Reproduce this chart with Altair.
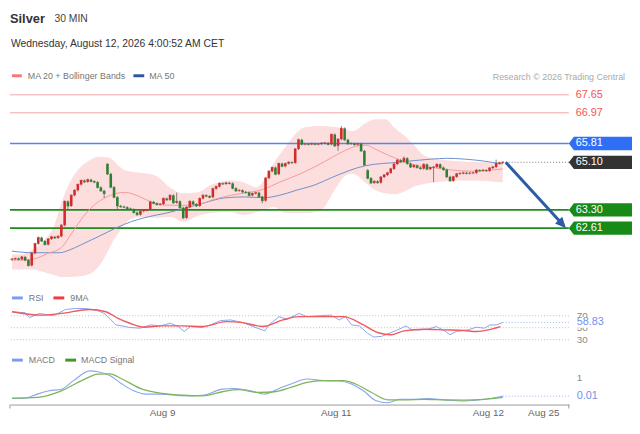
import math
import altair as alt
import pandas as pd

FONT = "Liberation Sans"

# ---------------- data ----------------
CLOSE = [61.44, 61.46, 61.43, 61.52, 61.40, 61.20, 61.66, 62.02, 62.25, 62.12,
         61.99, 62.20, 62.28, 62.24, 62.30, 62.72, 63.62, 63.45, 63.85, 64.04,
         64.26, 64.41, 64.36, 64.44, 64.38, 64.35, 64.15, 64.02, 63.92, 64.66,
         64.16, 63.78, 63.45, 63.42, 63.40, 63.35, 63.32, 63.20, 63.12, 63.25,
         63.28, 63.30, 63.60, 63.55, 63.50, 63.52, 63.73, 63.68, 63.85, 63.57,
         63.62, 63.38, 63.00, 63.40, 63.62, 63.52, 63.45, 63.73, 63.85, 63.82,
         63.78, 64.10, 64.18, 64.30, 64.28, 64.32, 64.30, 64.12, 64.02, 64.04,
         63.98, 63.96, 63.85, 63.92, 63.95, 63.80, 63.65, 64.50, 64.76, 64.90,
         64.65, 65.05, 64.95, 65.05, 65.10, 65.08, 65.60, 65.95, 65.78, 65.79,
         65.78, 65.80, 65.78, 65.79, 65.82, 65.83, 65.78, 66.15, 65.72, 65.97,
         66.38, 65.95, 65.80, 65.81, 65.77, 65.80, 65.53, 65.00, 64.50, 64.32,
         64.38, 64.33, 64.54, 64.62, 64.70, 64.85, 65.03, 65.18, 65.12, 65.25,
         65.05, 64.92, 64.98, 64.90, 64.86, 65.02, 64.84, 64.90, 64.92, 65.02,
         64.90, 64.82, 64.55, 64.40, 64.55, 64.66, 64.68, 64.70, 64.68, 64.69,
         64.70, 64.80, 64.78, 64.80, 64.78, 64.88, 64.92, 65.05, 65.08, 65.10]
FIRST_OPEN = 61.42
GAP_OPEN = {29: 65.04, 108: 64.80}
HIGH_WICK = {29: 65.06, 50: 63.95, 100: 66.47, 119: 65.32, 147: 65.20}
LOW_WICK = {17: 63.30, 28: 63.75, 32: 63.29, 52: 62.95, 76: 63.55, 99: 65.53, 128: 64.35}

MA20_I = [0, 6, 11, 15, 16.5, 19.5, 22.5, 25.5, 28.5, 31.5,
          34.5, 38.4, 42.3, 46.5, 51.3, 56.4, 61.4, 66.4, 71.4, 76.4,
          81.3, 86.3, 92.3, 97.4, 100.4, 104.3, 107.3, 110.3, 113.3, 118.4,
          123.2, 128.3, 133.4, 139.4, 145.4, 149]
MA20_P = [61.40, 61.43, 61.66, 61.87, 62.11, 62.67, 63.17, 63.54, 63.77, 63.92,
          63.96, 63.82, 63.60, 63.48, 63.47, 63.50, 63.70, 63.85, 63.95, 64.08,
          64.35, 64.60, 64.95, 65.30, 65.50, 65.70, 65.75, 65.60, 65.42, 65.16,
          64.97, 64.89, 64.81, 64.76, 64.80, 64.85]

MA50_I = [0, 6.3, 14.4, 17.4, 21.3, 26.4, 31.5, 36.3, 41.4, 46.5,
          52.5, 58.5, 64.4, 70.4, 76.4, 81.2, 86.3, 92.3, 97.4, 107.3,
          117.2, 127.4, 132.2, 137.3, 142.4, 147.2, 149]
MA50_P = [61.74, 61.68, 61.68, 61.78, 62.00, 62.30, 62.61, 62.86, 63.04, 63.17,
          63.36, 63.57, 63.75, 63.79, 63.76, 63.85, 64.04, 64.26, 64.54, 64.97,
          65.10, 65.22, 65.25, 65.22, 65.16, 65.07, 65.04]

BB_I = [0, 2.4, 6.3, 9.9, 12.9, 15.3, 17.4, 20.4, 23.4, 26.4,
        29.4, 30.9, 32.4, 34.5, 38.4, 43.5, 48.3, 51.9, 56.4, 60.3,
        66.2, 70.4, 74.3, 76.4, 79.4, 83.3, 86.3, 89.3, 93.8, 98.3,
        101.3, 103.4, 107.3, 110.3, 113.3, 116.3, 119.3, 122.3, 124.4, 128.3,
        138.2, 149]
BB_UP = [61.61, 61.61, 61.80, 62.17, 62.73, 63.67, 64.30, 64.86, 65.16, 65.31,
         65.27, 65.16, 64.97, 64.79, 64.71, 64.60, 64.12, 63.93, 63.97, 64.23,
         64.41, 64.34, 64.15, 64.41, 65.05, 65.72, 66.21, 66.43, 66.47, 66.43,
         66.35, 66.28, 66.58, 66.73, 66.73, 66.39, 66.09, 65.72, 65.42, 65.24,
         65.12, 65.09]
BB_LO = [61.05, 61.05, 61.05, 60.94, 60.83, 60.76, 60.76, 60.79, 60.87, 61.17,
         61.80, 62.17, 62.44, 62.81, 63.03, 63.00, 63.03, 62.85, 63.07, 63.18,
         63.22, 63.11, 63.22, 63.29, 63.41, 63.18, 63.18, 63.18, 63.29, 64.12,
         64.60, 64.67, 64.34, 64.04, 63.93, 63.89, 64.00, 64.19, 64.26, 64.34,
         64.41, 64.34]

RSI_I = [0, 4, 5.3, 8.3, 12.6, 16.3, 19.3, 22.4, 26.1, 27.9,
         29.1, 31.6, 33.4, 35.8, 38.9, 41.9, 45, 48.1, 50.5, 52.3,
         54.2, 57.8, 60.3, 63.3, 66.4, 70.1, 73.7, 76.8, 78, 81.1,
         83.5, 87.2, 89.6, 93.3, 96.9, 99.4, 101.2, 103.1, 105.5, 107.9,
         109.8, 112.2, 114.7, 117.1, 119.6, 121.4, 123.9, 126.3, 128.8, 131.2,
         133, 134.9, 138.5, 141, 143.4, 145.2, 147.1, 149]
RSI_V = [76.6, 75, 66.7, 73.8, 70, 80.4, 82, 82, 78.2, 74,
         68.4, 54.6, 53, 50.3, 49.2, 54.6, 53, 57.4, 51.9, 43.7,
         51.9, 50.3, 54.6, 61.8, 62.9, 58.5, 50.8, 44.8, 54.6, 68.4,
         64, 73.8, 68.4, 70, 71, 62.9, 68.4, 54.6, 53, 41,
         34.4, 35.5, 41, 46.4, 53, 46.4, 46.4, 47.5, 51.9, 45.3,
         38.2, 43.7, 46.4, 50.8, 49.2, 54.6, 54.6, 58.83]
RSI9_I = [0, 8.9, 15, 23.6, 28.5, 32.2, 35.8, 40.1, 45.6, 51.7,
          57.8, 65.2, 70.1, 76.2, 82.3, 87.2, 94.5, 100.6, 106.7, 111,
          115.3, 119, 125.1, 131.2, 137.3, 141, 144.6, 148.3]
RSI9_V = [76.6, 71, 73.8, 80.4, 76.6, 65.6, 57.4, 50.8, 53, 53,
          51.9, 60.1, 58.5, 51.9, 62.9, 68.4, 68.4, 68.4, 54.6, 42,
          38.2, 44.8, 47.5, 46.4, 45.3, 43.7, 46.4, 51.9]

MACD_I = [0, 4, 7.7, 11.3, 15, 18.7, 23.6, 26.1, 29.7, 33.4,
          37, 40.7, 45.6, 51.7, 57.8, 63.9, 67.6, 72.5, 76.8, 81.1,
          84.7, 89.6, 94.5, 99.4, 103.1, 106.7, 110.4, 114.1, 117.7, 121.4,
          126.3, 131.2, 137.3, 143.4, 149]
MACD_V = [-0.12, -0.10, 0.12, 0.30, 0.39, 0.85, 1.38, 1.33, 1.13, 0.67,
          0.30, 0.12, 0.12, 0.03, 0.06, 0.39, 0.43, 0.30, 0.12, 0.43,
          0.67, 0.94, 0.85, 0.83, 0.67, 0.30, -0.22, -0.35, -0.16, -0.16,
          -0.12, -0.19, -0.25, -0.16, 0.01]
SIG_I = [0, 7.7, 15, 21.2, 26.1, 29.7, 33.4, 39.5, 45.6, 51.7,
         57.8, 63.9, 68.8, 74.9, 79.8, 84.7, 89.6, 94.5, 100.6, 104.3,
         109.2, 114.1, 119, 125.1, 131.2, 137.3, 143.4, 149]
SIG_V = [-0.10, -0.06, 0.30, 0.85, 1.20, 1.22, 0.94, 0.39, 0.16, 0.06,
         0.03, 0.25, 0.36, 0.21, 0.25, 0.49, 0.76, 0.85, 0.85, 0.67,
         0.21, -0.19, -0.19, -0.16, -0.19, -0.20, -0.16, -0.06]

RESISTANCES = [67.65, 66.97]
PIVOT = [65.81]
SUPPORTS = [63.30, 62.61]
LAST_PRICE = 65.10
RSI_LEVELS = [70, 50, 30]
RSI_LAST = 58.83
MACD_LEVELS = [1]
MACD_LAST = 0.01
TICK_POS = [45.6, 98.3, 144.5, 161.3]
TICK_TEXT = ["Aug 9", "Aug 11", "Aug 12", "Aug 25"]
ARROW_I = [149.9, 168.2]
ARROW_P = [65.10, 62.61]

TITLE = "Silver"
PERIOD = "30 MIN"
DATE = "Wednesday, August 12, 2026 4:00:52 AM CET"
LEG_PRICE = ["MA 20 + Bollinger Bands", "MA 50"]
LEG_RSI = ["RSI", "9MA"]
LEG_MACD = ["MACD", "MACD Signal"]
CREDIT = "Research \u00a9 2026 Trading Central"

# ---------------- layout / styles ----------------
W, H = 566, 399
X_DOM = [-0.6, 169.06]
P_DOM = [55.94, 70.834]
R_DOM = [-78.15, 578.64]
M_DOM = [-0.444, 20.893]

UP, DOWN, FLAT = "#d42a2a", "#2e7f32", "#555555"
BOX_SHAPE = "M -1 0 L -0.84 -0.21 L 1 -0.21 L 1 0.21 L -0.84 0.21 Z"
BG_SHAPE = "M -1 -0.36 L 1 -0.36 L 1 0.36 L -1 0.36 Z"

# ---------------- tables ----------------
opens = [FIRST_OPEN] + CLOSE[:-1]
for k, v in GAP_OPEN.items():
    opens[k] = v
rows = []
for i, (o, c) in enumerate(zip(opens, CLOSE)):
    hi = HIGH_WICK.get(i, max(o, c) + 0.04)
    lo = LOW_WICK.get(i, min(o, c) - 0.04)
    d = "up" if c > o + 0.004 else ("down" if c < o - 0.004 else "flat")
    rows.append(dict(i=i, o=o, c=c, h=hi, l=lo, d=d))
candles = pd.DataFrame(rows)

bb = pd.DataFrame({"i": BB_I, "up": BB_UP, "lo": BB_LO})
ma20 = pd.DataFrame({"i": MA20_I, "p": MA20_P})
ma50 = pd.DataFrame({"i": MA50_I, "p": MA50_P})
rsi = pd.DataFrame({"i": RSI_I, "v": RSI_V})
rsi9 = pd.DataFrame({"i": RSI9_I, "v": RSI9_V})
macd = pd.DataFrame({"i": MACD_I, "v": MACD_V})
sig = pd.DataFrame({"i": SIG_I, "v": SIG_V})
ONE = pd.DataFrame({"k": [0]})
last_i = candles["i"].iloc[-1]

# ---------------- encodings ----------------
expr = "''"
for v, t in reversed(list(zip(TICK_POS, TICK_TEXT))):
    expr = f"abs(datum.value - {v}) < 0.01 ? '{t}' : ({expr})"

XS = alt.Scale(domain=X_DOM, nice=False, zero=False)
XAX = alt.Axis(values=TICK_POS, labelExpr=expr, ticks=False, grid=False,
               domainColor="#9a9a9a", domainWidth=1, labelColor="#666",
               labelFont=FONT, labelFontSize=10, labelPadding=3,
               labelFlush=False, labelOverlap=False, title=None)


def xq(f):
    return alt.X(f"{f}:Q", scale=XS, axis=XAX, title=None)


def yq(f, dom):
    return alt.Y(f"{f}:Q", scale=alt.Scale(domain=dom, nice=False, zero=False),
                 axis=None, title=None)


dcolor = alt.Color("d:N", scale=alt.Scale(domain=["up", "down", "flat"],
                                           range=[UP, DOWN, FLAT]), legend=None)


def text_at(txt, x, y, size=9, color="#777", weight="normal", align="left"):
    return alt.Chart(ONE).mark_text(align=align, baseline="middle", fontSize=size,
                                    font=FONT, color=color, fontWeight=weight).encode(
        x=alt.value(x), y=alt.value(y), text=alt.value(txt))


def swatch(x1, x2, y, color):
    return alt.Chart(ONE).mark_rule(color=color, strokeWidth=3).encode(
        x=alt.value(x1), x2=alt.value(x2), y=alt.value(y))


def price_box(values, color):
    df = pd.DataFrame({"p": values})
    box = alt.Chart(df).mark_point(shape=BOX_SHAPE, size=4096, filled=True, opacity=1,
                                   strokeWidth=0, color=color).encode(
        x=alt.value(598), y=yq("p", P_DOM))
    txt = alt.Chart(df).mark_text(align="left", baseline="middle", fontSize=11, font=FONT,
                                  color="white").encode(
        x=alt.value(573), y=yq("p", P_DOM), text=alt.Text("p:Q", format=".2f"))
    return [box, txt]


layers = []

# price panel
layers.append(alt.Chart(bb).mark_area(color="#fcdede", opacity=1, interpolate="monotone")
              .encode(x=xq("i"), y=yq("up", P_DOM), y2=alt.Y2("lo")))
layers.append(alt.Chart(pd.DataFrame({"p": RESISTANCES})).mark_rule(color="#f6a5a5", strokeWidth=1)
              .encode(y=yq("p", P_DOM)))
layers.append(alt.Chart(pd.DataFrame({"p": PIVOT})).mark_rule(color="#4f86f0", strokeWidth=1.3)
              .encode(y=yq("p", P_DOM)))
layers.append(alt.Chart(pd.DataFrame({"p": SUPPORTS})).mark_rule(color="#1f8a1f", strokeWidth=2)
              .encode(y=yq("p", P_DOM)))
layers.append(alt.Chart(ma50).mark_line(color="#6f8fca", strokeWidth=1, interpolate="monotone")
              .encode(x=xq("i"), y=yq("p", P_DOM)))
layers.append(alt.Chart(ma20).mark_line(color="#f49a9a", strokeWidth=1, interpolate="monotone")
              .encode(x=xq("i"), y=yq("p", P_DOM)))
layers.append(alt.Chart(candles).mark_rule(color="#666", strokeWidth=0.8)
              .encode(x=xq("i"), y=yq("l", P_DOM), y2=alt.Y2("h")))
layers.append(alt.Chart(candles).mark_rule(strokeWidth=2.6, strokeCap="butt")
              .encode(x=xq("i"), y=yq("o", P_DOM), y2=alt.Y2("c"), color=dcolor))
layers.append(alt.Chart(candles).mark_tick(orient="horizontal", size=2.8, thickness=1)
              .encode(x=xq("i"), y=yq("c", P_DOM), color=dcolor))
layers.append(alt.Chart(pd.DataFrame({"i": [last_i], "p": [LAST_PRICE]}))
              .mark_rule(color="#777", strokeWidth=1, strokeDash=[1, 2])
              .encode(x=xq("i"), x2=alt.value(W), y=yq("p", P_DOM)))

# arrow
px_i = W / (X_DOM[1] - X_DOM[0])
px_p = H / (P_DOM[1] - P_DOM[0])
dx = (ARROW_I[1] - ARROW_I[0]) * px_i
dy = (ARROW_P[0] - ARROW_P[1]) * px_p
ang = math.degrees(math.atan2(dx, -dy)) % 360
shaft = pd.DataFrame({"i": [ARROW_I[0], ARROW_I[0] + 0.9 * (ARROW_I[1] - ARROW_I[0])],
                      "p": [ARROW_P[0], ARROW_P[0] + 0.9 * (ARROW_P[1] - ARROW_P[0])]})
layers.append(alt.Chart(shaft).mark_line(color="#2c5ca5", strokeWidth=3, strokeCap="butt")
              .encode(x=xq("i"), y=yq("p", P_DOM)))
layers.append(alt.Chart(pd.DataFrame({"i": [ARROW_I[1]], "p": [ARROW_P[1]]}))
              .mark_point(shape="M 0 0 L 0.45 1 L -0.45 1 Z", size=484, filled=True,
                          opacity=1, color="#2c5ca5", angle=ang, strokeWidth=0)
              .encode(x=xq("i"), y=yq("p", P_DOM)))

# right price labels
layers += price_box(PIVOT, "#2f6ff5")
layers += price_box([LAST_PRICE], "#333333")
layers += price_box(SUPPORTS, "#178a17")
layers.append(alt.Chart(pd.DataFrame({"p": RESISTANCES})).mark_text(
    align="left", baseline="middle", fontSize=11, font=FONT, color="#f25555")
    .encode(x=alt.value(573), y=yq("p", P_DOM), text=alt.Text("p:Q", format=".2f")))

# RSI panel
layers.append(alt.Chart(pd.DataFrame({"v": RSI_LEVELS})).mark_rule(color="#bdbdbd", strokeDash=[1, 2])
              .encode(y=yq("v", R_DOM)))
layers.append(alt.Chart(rsi).mark_line(color="#8aa5ef", strokeWidth=1)
              .encode(x=xq("i"), y=yq("v", R_DOM)))
layers.append(alt.Chart(rsi9).mark_line(color="#f05a5f", strokeWidth=1.4, interpolate="monotone")
              .encode(x=xq("i"), y=yq("v", R_DOM)))
layers.append(alt.Chart(pd.DataFrame({"i": [last_i], "v": [RSI_LAST]}))
              .mark_rule(color="#9fb4ef", strokeDash=[1, 2])
              .encode(x=xq("i"), x2=alt.value(W), y=yq("v", R_DOM)))
layers.append(alt.Chart(pd.DataFrame({"v": RSI_LEVELS})).mark_text(
    align="left", baseline="middle", fontSize=10, font=FONT, color="#888")
    .encode(x=alt.value(574), y=yq("v", R_DOM), text=alt.Text("v:Q", format="d")))
layers.append(alt.Chart(pd.DataFrame({"v": [RSI_LAST]})).mark_point(
    shape=BG_SHAPE, size=900, filled=True, opacity=1, color="white", strokeWidth=0)
    .encode(x=alt.value(588), y=yq("v", R_DOM)))
layers.append(alt.Chart(pd.DataFrame({"v": [RSI_LAST]})).mark_text(
    align="left", baseline="middle", fontSize=11, font=FONT, color="#6f93ea")
    .encode(x=alt.value(574), y=yq("v", R_DOM), text=alt.Text("v:Q", format=".2f")))

# MACD panel
layers.append(alt.Chart(macd).mark_line(color="#8aa5ef", strokeWidth=1.1, interpolate="monotone")
              .encode(x=xq("i"), y=yq("v", M_DOM)))
layers.append(alt.Chart(sig).mark_line(color="#7db55c", strokeWidth=1.3, interpolate="monotone")
              .encode(x=xq("i"), y=yq("v", M_DOM)))
layers.append(alt.Chart(pd.DataFrame({"i": [last_i], "v": [MACD_LAST]}))
              .mark_rule(color="#9fb4ef", strokeDash=[1, 2])
              .encode(x=xq("i"), x2=alt.value(W), y=yq("v", M_DOM)))
layers.append(alt.Chart(pd.DataFrame({"v": MACD_LEVELS})).mark_text(
    align="left", baseline="middle", fontSize=10, font=FONT, color="#888")
    .encode(x=alt.value(574), y=yq("v", M_DOM), text=alt.Text("v:Q", format="d")))
layers.append(alt.Chart(pd.DataFrame({"v": [MACD_LAST]})).mark_text(
    align="left", baseline="middle", fontSize=11, font=FONT, color="#6f93ea")
    .encode(x=alt.value(574), y=yq("v", M_DOM), text=alt.Text("v:Q", format=".2f")))

# x-axis end ticks
layers.append(alt.Chart(pd.DataFrame({"i": X_DOM})).mark_rule(color="#9a9a9a")
              .encode(x=xq("i"), y=alt.value(H), y2=alt.value(H + 4)))

# titles and legends
layers += [
    text_at(TITLE, 0, 9, size=13, color="#333", weight="bold"),
    text_at(PERIOD, 45, 9, size=10.5, color="#444"),
    text_at(DATE, 1, 34, size=10.5, color="#333"),
    swatch(2, 12, 66, "#f47878"), text_at(LEG_PRICE[0], 18, 66),
    swatch(125, 136, 66, "#2d55a0"), text_at(LEG_PRICE[1], 141, 66),
    text_at(CREDIT, 623, 67, color="#aaaaaa", align="right"),
    swatch(2, 13, 291, "#7b9cf0"), text_at(LEG_RSI[0], 19, 291),
    swatch(44, 55, 291, "#f23c3c"), text_at(LEG_RSI[1], 61, 291),
    swatch(2, 13, 354, "#7b9cf0"), text_at(LEG_MACD[0], 19, 354),
    swatch(56, 67, 354, "#3f9a1f"), text_at(LEG_MACD[1], 72, 354),
]

chart = alt.layer(*layers).resolve_scale(y="independent", color="independent").properties(
    width=W, height=H,
    autosize=alt.AutoSizeParams(type="none"),
    padding={"left": 2, "top": 0, "right": 64, "bottom": 13},
    background="white",
).configure_view(stroke=None)

chart.save("out.html", embed_options={"renderer": "svg", "actions": False})
